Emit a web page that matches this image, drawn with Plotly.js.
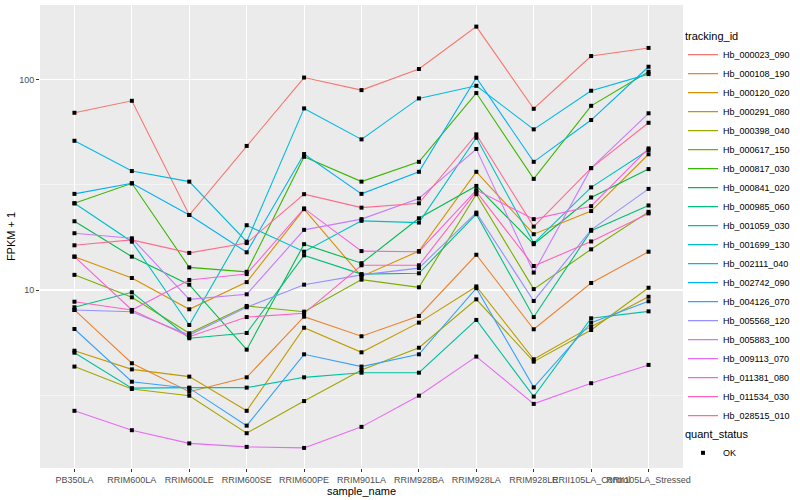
<!DOCTYPE html>
<html><head><meta charset="utf-8">
<script src="https://cdn.plot.ly/plotly-3.0.1.min.js"></script>
<style>html,body{margin:0;padding:0;background:#fff}</style>
</head><body><div id="chart" style="width:800px;height:500px"></div>
<script>
const samples = ["PB350LA","RRIM600LA","RRIM600LE","RRIM600SE","RRIM600PE","RRIM901LA","RRIM928BA","RRIM928LA","RRIM928LE","RRII105LA_Control","RRII105LA_Stressed"];
const trackingIds = ["Hb_000023_090","Hb_000108_190","Hb_000120_020","Hb_000291_080","Hb_000398_040","Hb_000617_150","Hb_000817_030","Hb_000841_020","Hb_000985_060","Hb_001059_030","Hb_001699_130","Hb_002111_040","Hb_002742_090","Hb_004126_070","Hb_005568_120","Hb_005883_100","Hb_009113_070","Hb_011381_080","Hb_011534_030","Hb_028515_010"];
const colors = ["#F8766D","#EA8331","#D89000","#C09B00","#A3A500","#7CAE00","#39B600","#00BB4E","#00BF7D","#00C1A3","#00BFC4","#00BAE0","#00B0F6","#35A2FF","#9590FF","#C77CFF","#E76BF3","#FA62DB","#FF62BC","#FF6C91"];

const hb000023_090 = [69.4, 79.1, 22.7, 48.3, 102, 88.9, 112, 178, 72.5, 129, 141];
const hb000108_190 = [8.04, 4.49, 3.29, 3.85, 7.47, 6.03, 7.53, 14.7, 6.51, 10.8, 15.2];
const hb000120_020 = [14.4, 11.4, 8.10, 10.9, 24.2, 11.6, 15.3, 36.4, 18.4, 23.7, 44.1];
const hb000291_080 = [5.15, 4.20, 3.88, 2.67, 6.62, 5.06, 7.00, 10.4, 4.69, 6.70, 9.29];
const hb000398_040 = [4.33, 3.39, 3.15, 2.09, 2.97, 4.17, 5.32, 9.03, 4.57, 6.46, 10.25];
const hb000617_150 = [11.8, 9.23, 6.23, 8.40, 7.89, 11.2, 10.3, 28.5, 10.1, 15.6, 23.5];
const hb000817_030 = [25.8, 32.1, 12.8, 12.2, 42.9, 32.7, 40.6, 86.1, 33.7, 74.9, 108.7];
const hb000841_020 = [21.2, 14.4, 10.6, 5.21, 16.5, 13.4, 21.9, 31.2, 16.5, 27.5, 37.5];
const hb000985_060 = [8.28, 9.75, 5.90, 6.25, 14.6, 11.9, 12.0, 22.9, 7.44, 19.1, 25.2];
const hb001059_030 = [5.04, 3.42, 3.44, 3.44, 3.85, 4.05, 4.05, 7.21, 3.12, 7.34, 7.92];
const hb001699_130 = [25.8, 16.96, 6.82, 20.3, 15.2, 21.3, 20.9, 52.8, 16.7, 30.7, 46.2];
const hb002111_040 = [51.1, 36.7, 32.7, 16.96, 72.8, 51.9, 81.2, 93.2, 57.9, 88.3, 105.9];
const hb002742_090 = [28.6, 32.1, 22.7, 15.1, 44.2, 28.6, 36.4, 101.8, 40.6, 64.1, 114.8];
const hb004126_070 = [6.53, 3.67, 3.42, 2.27, 4.95, 4.33, 4.95, 10.2, 3.45, 7.00, 8.84];
const hb005568_120 = [8.04, 7.89, 6.11, 8.28, 10.6, 11.8, 12.7, 23.3, 8.87, 19.3, 30.2];
const hb005883_100 = [18.6, 17.6, 9.03, 9.54, 19.3, 21.7, 27.2, 46.7, 12.1, 37.9, 69.0];
const hb009113_070 = [2.67, 2.16, 1.87, 1.80, 1.78, 2.24, 3.15, 4.83, 2.88, 3.61, 4.41];
const hb011381_080 = [14.4, 8.04, 11.16, 11.9, 24.4, 15.3, 15.2, 29.8, 21.7, 25.0, 47.0];
const hb011534_030 = [8.80, 8.04, 6.00, 7.44, 7.75, 13.1, 13.1, 29.3, 13.0, 17.0, 23.1];
const hb028515_010 = [16.3, 17.3, 15.0, 16.7, 28.5, 24.6, 25.8, 54.8, 20.0, 37.9, 62.2];

const seriesValues = [hb000023_090, hb000108_190, hb000120_020, hb000291_080, hb000398_040, hb000617_150, hb000817_030, hb000841_020, hb000985_060, hb001059_030, hb001699_130, hb002111_040, hb002742_090, hb004126_070, hb005568_120, hb005883_100, hb009113_070, hb011381_080, hb011534_030, hb028515_010];
const quantStatus = "OK";

const font = "Liberation Sans, Arial, sans-serif";
const traces = seriesValues.map((vals, i) => ({
  type: 'scatter', mode: 'lines', x: samples, y: vals, name: trackingIds[i],
  line: {color: colors[i], width: 1.1}, legend: 'legend'
}));
const px = [], py = [];
seriesValues.forEach(vals => vals.forEach((v, j) => { px.push(samples[j]); py.push(v); }));
traces.push({type: 'scatter', mode: 'markers', x: px, y: py, name: quantStatus,
  marker: {symbol: 'square', size: 4, color: 'black'}, legend: 'legend2'});

const layout = {
  width: 800, height: 500,
  margin: {l: 40, r: 117, t: 5, b: 32},
  paper_bgcolor: 'white', plot_bgcolor: '#EBEBEB',
  font: {family: font, color: 'black'},
  xaxis: {type: 'category', range: [-0.6, 10.6], showgrid: true, gridcolor: 'white', gridwidth: 1.1,
    ticks: 'outside', ticklen: 3, tickcolor: '#333', tickangle: 0, showline: false, zeroline: false,
    tickfont: {size: 9, color: '#4D4D4D', family: font},
    title: {text: 'sample_name', font: {size: 11}, standoff: 0}, automargin: false},
  yaxis: {type: 'log', range: [0.155, 2.353], tickvals: [10, 100], ticktext: ['10', '100'],
    showgrid: true, gridcolor: 'white', gridwidth: 1.1, zeroline: false, showline: false,
    ticks: 'outside', ticklen: 3, tickcolor: '#333',
    tickfont: {size: 9, color: '#4D4D4D', family: font},
    minor: {tickvals: [3.1623, 31.623], showgrid: true, gridcolor: 'white', gridwidth: 0.5, ticks: ''},
    title: {text: 'FPKM + 1', font: {size: 11}, standoff: 1}, automargin: false},
  legend: {x: 1.0, xanchor: 'left', y: 0.955, yanchor: 'top', bgcolor: 'rgba(0,0,0,0)',
    title: {text: 'tracking_id', font: {size: 11}}, font: {size: 9, family: font}, itemwidth: 30},
  legend2: {x: 1.0, xanchor: 'left', y: 0.095, yanchor: 'top', bgcolor: 'rgba(0,0,0,0)',
    title: {text: 'quant_status', font: {size: 11}}, font: {size: 9, family: font}, itemwidth: 30},
  showlegend: true
};
Plotly.newPlot('chart', traces, layout, {displayModeBar: false, staticPlot: true});
</script></body></html>
